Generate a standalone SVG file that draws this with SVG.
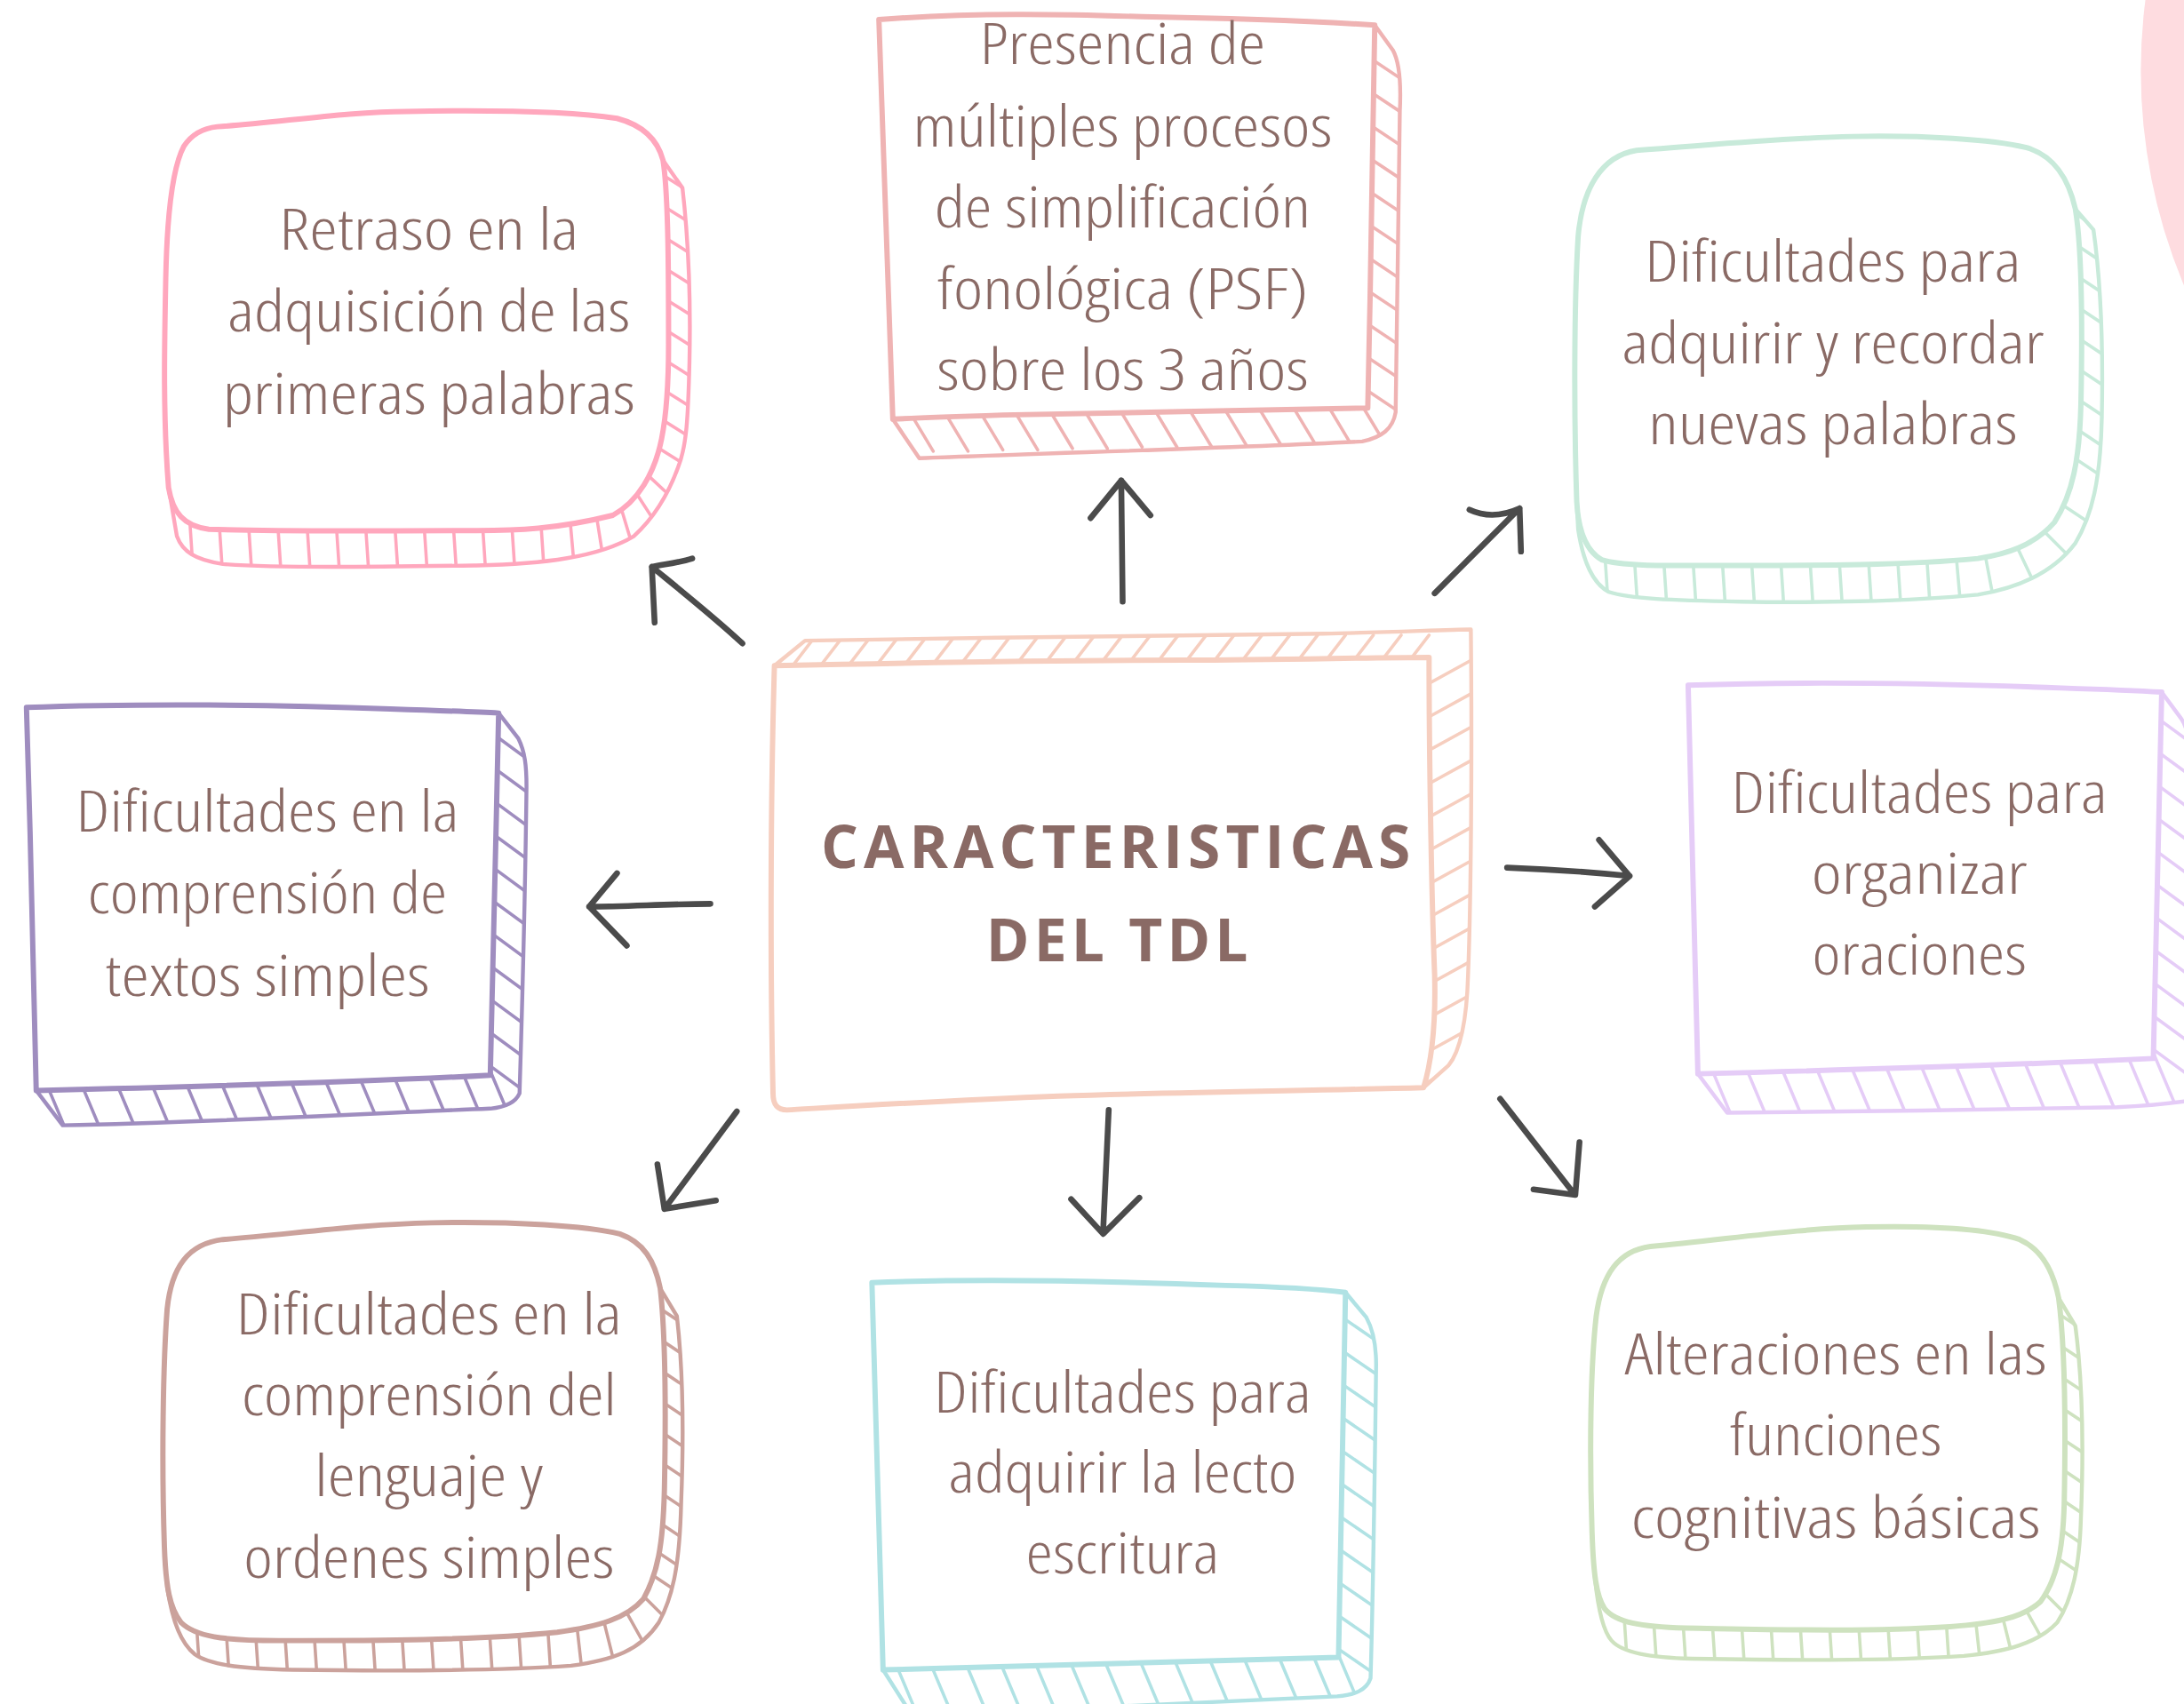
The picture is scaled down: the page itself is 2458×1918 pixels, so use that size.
<svg xmlns="http://www.w3.org/2000/svg" xmlns:xlink="http://www.w3.org/1999/xlink" width="2458" height="1918" viewBox="0 0 2458 1918">
<style>
.t{font-family:'Open Sans','Lato','Liberation Sans',sans-serif;font-weight:300;font-size:41px;fill:#8A6A65;stroke:none;text-anchor:middle;font-stretch:condensed}
.title{font-family:'Open Sans','Lato','Liberation Sans',sans-serif;font-weight:700;font-size:42px;fill:#8A6A65;stroke:none;text-anchor:middle;font-stretch:normal}
.back{fill:#fff;stroke-width:2.8;stroke-linejoin:round}
.face{fill:#fff;stroke-width:3.8;stroke-linejoin:round;stroke-linecap:round}
.rung{fill:none;stroke-width:2.3;stroke-linecap:round}
.arrow{fill:none;stroke:#4B4B4B;stroke-width:4.2;stroke-linecap:round;stroke-linejoin:round}
</style>
<defs>
<path id="oA" d="M156,91 C200,88 250,80 292,80 C350,79 410,80 443,85 C462,90 472,100 476,115 L490,135 C494,170 496,215 495,260 C494,300 493,320 487,335 C478,360 466,375 455,385 C430,400 390,405 342,406 C270,407 200,408 160,405 C140,402 131,396 127,385 L121,350 C117,300 118,250 119,200 C120,150 124,120 132,105 C138,96 146,92 156,91 Z"/>
<path id="oB" d="M631,14 C700,9 760,10 820,12 C880,13 940,15 987,18 L1000,36 C1005,45 1006,60 1005,80 C1004,150 1003,230 1002,296 C1000,308 992,314 978,317 C880,322 760,325 660,329 L641,301 C638,220 634,120 631,14 Z"/>
<path id="oC" d="M1175,108 C1230,104 1280,99 1330,98 C1380,97 1430,100 1455,106 C1475,112 1485,128 1490,150 L1503,165 C1508,200 1510,250 1509,300 C1508,345 1502,370 1490,390 C1475,410 1450,422 1420,427 C1370,432 1300,433 1250,432 C1200,431 1170,430 1155,425 C1142,418 1136,400 1133,380 L1132,360 C1130,300 1130,220 1133,170 C1136,135 1150,112 1175,108 Z"/>
<path id="oD" d="M556,478 L578,460 C700,458 850,456 950,455 C1000,454 1040,452 1056,452 C1057,550 1056,650 1054,700 C1053,735 1048,755 1040,765 L1022,781 C950,783 850,784 760,787 C680,790 600,795 565,797 C557,797 555,792 555,785 C553,700 553,580 556,478 Z"/>
<path id="oE" d="M19,508 C100,505 200,506 280,509 C310,510 340,511 358,512 L372,530 C377,540 378,550 378,565 C377,650 375,720 373,785 C370,792 362,795 352,796 C250,800 150,806 45,808 L26,783 C24,700 22,600 19,508 Z"/>
<path id="oF" d="M1212,492 C1300,489 1400,491 1480,494 C1510,495 1535,496 1552,497 L1566,516 C1572,525 1574,540 1574,560 L1574,790 C1560,792 1540,794 1520,795 C1430,797 1330,798 1240,799 L1219,771 C1217,700 1215,600 1212,492 Z"/>
<path id="oG" d="M160,890 C210,886 260,879 310,878 C370,877 420,880 445,886 C462,892 470,905 474,925 L486,945 C490,980 491,1030 489,1080 C488,1120 484,1145 473,1165 C460,1185 440,1192 410,1196 C350,1200 280,1200 210,1199 C170,1198 150,1195 140,1188 C130,1180 124,1165 120,1140 L118,1110 C116,1050 117,980 120,940 C123,910 135,893 160,890 Z"/>
<path id="oH" d="M626,921 C700,918 800,920 880,923 C920,924 950,926 966,928 L981,946 C986,955 988,965 988,980 C987,1060 986,1140 984,1205 C981,1214 972,1217 960,1218 C860,1222 760,1228 655,1232 L634,1199 C632,1100 629,1010 626,921 Z"/>
<path id="oI" d="M1185,895 C1240,890 1290,882 1340,881 C1390,880 1430,883 1450,890 C1466,897 1474,912 1478,932 L1490,952 C1495,990 1496,1040 1494,1090 C1493,1125 1488,1148 1477,1165 C1463,1180 1440,1186 1410,1189 C1350,1193 1280,1192 1215,1191 C1185,1190 1165,1187 1157,1178 C1150,1170 1146,1150 1144,1120 L1143,1100 C1141,1040 1142,980 1146,945 C1150,915 1162,898 1185,895 Z"/>
<clipPath id="cA"><use xlink:href="#oA"/></clipPath>
<clipPath id="cB"><use xlink:href="#oB"/></clipPath>
<clipPath id="cC"><use xlink:href="#oC"/></clipPath>
<clipPath id="cD"><use xlink:href="#oD"/></clipPath>
<clipPath id="cE"><use xlink:href="#oE"/></clipPath>
<clipPath id="cF"><use xlink:href="#oF"/></clipPath>
<clipPath id="cG"><use xlink:href="#oG"/></clipPath>
<clipPath id="cH"><use xlink:href="#oH"/></clipPath>
<clipPath id="cI"><use xlink:href="#oI"/></clipPath>
</defs>
<rect width="2458" height="1918" fill="#ffffff"/>
<g transform="scale(1.5676)">
<circle id="decor-circle" cx="1935" cy="51" r="398" fill="#FEDCE0"/>

<g id="node-retraso" stroke="#FFA7BD">
<use xlink:href="#oA" class="back"/>
<path class="rung" clip-path="url(#cA)" d="M136,370l3,45M157,370l3,45M178,370l3,45M199,370l3,45M220,370l3,45M241,370l3,45M262,370l3,45M283,370l3,45M304,370l3,45M325,370l3,45M346,370l3,45M367,370l3,45M388,370l3,45M409,370l4,45M428,369l7,44M446,365l12,40M458,356l22,34M467,343l28,26M470,122l32,20M470,144l32,20M470,166l32,20M470,188l32,20M470,210l32,20M470,232l32,20M470,254l32,20M470,276l32,20M470,298l32,20M470,320l32,20"/>
<path class="face" d="M156,91 C200,88 250,80 292,80 C350,79 410,80 443,85 C462,90 472,100 476,115 C480,140 480,200 480,247 C480,280 478,300 475,315 C470,340 458,360 440,370 C400,380 370,381 342,381 C270,381 200,382 150,380 C132,378 124,368 121,350 C117,300 118,250 119,200 C120,150 124,120 132,105 C138,96 146,92 156,91 Z"/>
<text class="t" x="308" y="179" textLength="215" lengthAdjust="spacingAndGlyphs">Retraso en la</text>
<text class="t" x="308" y="238" textLength="289" lengthAdjust="spacingAndGlyphs">adquisición de las</text>
<text class="t" x="308" y="297" textLength="296" lengthAdjust="spacingAndGlyphs">primeras palabras</text>
</g>

<g id="node-presencia" stroke="#EFB3B3">
<use xlink:href="#oB" class="back"/>
<path class="rung" clip-path="url(#cB)" d="M652,294l18,30M677,294l18,30M702,293l18,30M727,293l18,30M752,292l18,30M777,292l18,30M802,291l18,30M827,291l18,30M852,291l18,30M877,290l18,30M902,290l18,30M927,290l18,30M952,289l18,30M976,288l18,30M978,38l27,18M978,62l27,18M978,86l27,18M978,110l27,18M978,134l27,18M978,158l27,18M978,182l27,18M978,206l27,18M978,230l27,18M978,254l27,18M978,278l27,18"/>
<path class="face" d="M631,14 C700,9 760,10 820,12 C880,13 940,15 987,18 C986,100 984,200 982,293 C900,295 800,296 720,298 C690,299 660,300 641,301 C638,220 634,120 631,14 Z"/>
<text class="t" x="806" y="46" textLength="205" lengthAdjust="spacingAndGlyphs">Presencia de</text>
<text class="t" x="806" y="105" textLength="301" lengthAdjust="spacingAndGlyphs">múltiples procesos</text>
<text class="t" x="806" y="163" textLength="270" lengthAdjust="spacingAndGlyphs">de simplificación</text>
<text class="t" x="806" y="222" textLength="266" lengthAdjust="spacingAndGlyphs">fonológica (PSF)</text>
<text class="t" x="806" y="280" textLength="267" lengthAdjust="spacingAndGlyphs">sobre los 3 años</text>
</g>

<g id="node-recordar" stroke="#C8EADA">
<use xlink:href="#oC" class="back"/>
<path class="rung" clip-path="url(#cC)" d="M1152,395l3,45M1173,395l3,45M1194,395l3,45M1215,395l3,45M1236,395l3,45M1257,395l3,45M1278,395l3,45M1299,395l3,45M1320,395l3,45M1341,395l3,45M1362,395l3,45M1383,395l3,45M1404,394l4,45M1424,392l8,42M1444,384l18,38M1460,374l28,28M1474,358l30,20M1488,152l30,20M1488,174l30,20M1488,196l30,20M1488,218l30,20M1488,240l30,20M1488,262l30,20M1488,284l30,20M1488,306l30,20M1488,328l30,20"/>
<path class="face" d="M1175,108 C1230,104 1280,99 1330,98 C1380,97 1430,100 1455,106 C1475,112 1485,128 1490,150 C1495,180 1495,240 1494,290 C1493,330 1488,355 1475,375 C1460,392 1440,398 1420,401 C1370,406 1300,406 1250,406 C1200,406 1165,407 1150,402 C1138,395 1133,380 1132,360 C1130,300 1130,220 1133,170 C1136,135 1150,112 1175,108 Z"/>
<text class="t" x="1316" y="202" textLength="270" lengthAdjust="spacingAndGlyphs">Dificultades para</text>
<text class="t" x="1316" y="261" textLength="303" lengthAdjust="spacingAndGlyphs">adquirir y recordar</text>
<text class="t" x="1316" y="319" textLength="265" lengthAdjust="spacingAndGlyphs">nuevas palabras</text>
</g>

<g id="node-center" stroke="#F6CEBF">
<use xlink:href="#oD" class="back"/>
<path class="rung" clip-path="url(#cD)" d="M566,482l20,-26M586,482l20,-26M606,482l20,-26M626,482l20,-26M646,482l20,-26M666,482l20,-26M686,482l20,-26M706,482l20,-26M726,482l20,-26M746,482l20,-26M766,482l20,-26M786,482l20,-26M806,482l20,-26M826,482l20,-26M846,482l20,-26M866,482l20,-26M886,482l20,-26M906,482l20,-26M926,482l20,-26M946,482l20,-26M966,482l20,-26M986,482l20,-26M1006,482l20,-26M1020,494l40,-22M1020,518l40,-22M1020,542l40,-22M1020,566l40,-22M1020,590l40,-22M1020,614l40,-22M1020,638l40,-22M1020,662l40,-22M1020,686l40,-22M1020,710l40,-22M1020,734l40,-22M1020,758l40,-22M1016,782l40,-22"/>
<path class="face" d="M556,478 C650,476 750,474 850,474 C920,474 980,472 1026,472 C1026,550 1028,650 1030,700 C1031,740 1027,765 1022,781 C950,783 850,784 760,787 C680,790 600,795 565,797 C557,797 555,792 555,785 C553,700 553,580 556,478 Z"/>
<text class="title" x="801" y="623" textLength="423" lengthAdjust="spacing">CARACTERISTICAS</text>
<text class="title" x="802" y="690" textLength="188" lengthAdjust="spacing">DEL TDL</text>
</g>

<g id="node-textos" stroke="#9F8DBF">
<use xlink:href="#oE" class="back"/>
<path class="rung" clip-path="url(#cE)" d="M32,775l16,38M57,775l16,38M82,774l16,38M107,774l16,38M132,774l16,38M157,773l16,38M182,773l16,38M207,772l16,38M232,772l16,38M257,771l16,38M282,771l16,38M307,770l16,38M332,770l16,38M352,769l16,38M350,524l30,22M350,548l30,22M350,572l30,22M350,596l30,22M350,620l30,22M350,644l30,22M350,668l30,22M350,692l30,22M350,716l30,22M350,740l30,22M350,764l30,22"/>
<path class="face" d="M19,508 C100,505 200,506 280,509 C310,510 340,511 358,512 C356,600 354,700 352,772 C280,776 150,780 26,783 C24,700 22,600 19,508 Z"/>
<text class="t" x="192" y="597" textLength="275" lengthAdjust="spacingAndGlyphs">Dificultades en la</text>
<text class="t" x="192" y="656" textLength="258" lengthAdjust="spacingAndGlyphs">comprensión de</text>
<text class="t" x="192" y="715" textLength="233" lengthAdjust="spacingAndGlyphs">textos simples</text>
</g>

<g id="node-oraciones" stroke="#E5CCF7">
<use xlink:href="#oF" class="back"/>
<path class="rung" clip-path="url(#cF)" d="M1227,763l16,38M1252,763l16,38M1277,762l16,38M1302,762l16,38M1327,761l16,38M1352,761l16,38M1377,760l16,38M1402,760l16,38M1427,759l16,38M1452,759l16,38M1477,758l16,38M1502,758l16,38M1527,757l16,38M1546,756l16,38M1544,512l30,22M1544,536l30,22M1544,560l30,22M1544,584l30,22M1544,608l30,22M1544,632l30,22M1544,656l30,22M1544,680l30,22M1544,704l30,22M1544,728l30,22M1544,752l30,22"/>
<path class="face" d="M1212,492 C1300,489 1400,491 1480,494 C1510,495 1535,496 1552,497 C1550,600 1548,700 1546,760 C1460,764 1340,768 1219,771 C1217,700 1215,600 1212,492 Z"/>
<text class="t" x="1378" y="584" textLength="270" lengthAdjust="spacingAndGlyphs">Dificultades para</text>
<text class="t" x="1378" y="642" textLength="155" lengthAdjust="spacingAndGlyphs">organizar</text>
<text class="t" x="1378" y="700" textLength="154" lengthAdjust="spacingAndGlyphs">oraciones</text>
</g>

<g id="node-lenguaje" stroke="#CBA29C">
<use xlink:href="#oG" class="back"/>
<path class="rung" clip-path="url(#cG)" d="M141,1165l3,45M162,1165l3,45M183,1165l3,45M204,1165l3,45M225,1165l3,45M246,1165l3,45M267,1165l3,45M288,1165l3,45M309,1165l3,45M330,1165l3,45M351,1165l3,45M372,1165l3,45M393,1165l3,45M414,1166l5,44M434,1166l10,40M450,1158l20,36M461,1145l28,28M470,937l30,20M470,959l30,20M470,981l30,20M470,1003l30,20M470,1025l30,20M470,1047l30,20M470,1069l30,20M470,1091l30,20M470,1113l30,20M470,1132l30,20"/>
<path class="face" d="M160,890 C210,886 260,879 310,878 C370,877 420,880 445,886 C462,892 470,905 474,925 C478,960 478,1020 477,1070 C476,1110 472,1130 462,1148 C450,1162 430,1168 400,1172 C340,1178 270,1178 200,1178 C160,1178 140,1175 130,1165 C122,1155 119,1140 118,1110 C116,1050 117,980 120,940 C123,910 135,893 160,890 Z"/>
<text class="t" x="308" y="958" textLength="277" lengthAdjust="spacingAndGlyphs">Dificultades en la</text>
<text class="t" x="308" y="1016" textLength="269" lengthAdjust="spacingAndGlyphs">comprensión del</text>
<text class="t" x="308" y="1074" textLength="164" lengthAdjust="spacingAndGlyphs">lenguaje y</text>
<text class="t" x="308" y="1133" textLength="266" lengthAdjust="spacingAndGlyphs">ordenes simples</text>
</g>

<g id="node-lectoescritura" stroke="#B0E2E4">
<use xlink:href="#oH" class="back"/>
<path class="rung" clip-path="url(#cH)" d="M642,1192l16,38M667,1192l16,38M692,1191l16,38M717,1191l16,38M742,1191l16,38M767,1190l16,38M792,1190l16,38M817,1189l16,38M842,1189l16,38M867,1188l16,38M892,1188l16,38M917,1187l16,38M942,1187l16,38M960,1186l16,38M958,942l32,22M958,966l32,22M958,990l32,22M958,1014l32,22M958,1038l32,22M958,1062l32,22M958,1086l32,22M958,1110l32,22M958,1134l32,22M958,1158l32,22M958,1182l32,22"/>
<path class="face" d="M626,921 C700,918 800,920 880,923 C920,924 950,926 966,928 C965,1010 963,1100 961,1190 C870,1193 750,1196 634,1199 C632,1100 629,1010 626,921 Z"/>
<text class="t" x="806" y="1014" textLength="271" lengthAdjust="spacingAndGlyphs">Dificultades para</text>
<text class="t" x="806" y="1072" textLength="250" lengthAdjust="spacingAndGlyphs">adquirir la lecto</text>
<text class="t" x="806" y="1130" textLength="139" lengthAdjust="spacingAndGlyphs">escritura</text>
</g>

<g id="node-cognitivas" stroke="#CEE2BF">
<use xlink:href="#oI" class="back"/>
<path class="rung" clip-path="url(#cI)" d="M1166,1160l3,45M1187,1160l3,45M1208,1160l3,45M1229,1160l3,45M1250,1160l3,45M1271,1160l3,45M1292,1160l3,45M1313,1160l3,45M1334,1160l3,45M1355,1160l3,45M1376,1160l3,45M1397,1160l3,45M1418,1160l5,45M1438,1162l10,40M1454,1155l20,36M1466,1142l28,28M1476,942l30,20M1476,964l30,20M1476,986l30,20M1476,1008l30,20M1476,1030l30,20M1476,1052l30,20M1476,1074l30,20M1476,1096l30,20M1476,1118l30,20"/>
<path class="face" d="M1185,895 C1240,890 1290,882 1340,881 C1390,880 1430,883 1450,890 C1466,897 1474,912 1478,932 C1483,970 1483,1030 1482,1080 C1481,1115 1476,1135 1465,1150 C1452,1162 1430,1166 1400,1168 C1340,1172 1270,1170 1210,1169 C1178,1168 1160,1165 1152,1155 C1146,1146 1144,1130 1143,1100 C1141,1040 1142,980 1146,945 C1150,915 1162,898 1185,895 Z"/>
<text class="t" x="1318" y="987" textLength="303" lengthAdjust="spacingAndGlyphs">Alteraciones en las</text>
<text class="t" x="1318" y="1045" textLength="152" lengthAdjust="spacingAndGlyphs">funciones</text>
<text class="t" x="1318" y="1104" textLength="294" lengthAdjust="spacingAndGlyphs">cognitivas básicas</text>
</g>

<g id="connectors">
<path class="arrow" d="M533,462 C515,445 490,425 468,407 M497,401 C488,404 478,405 468,407 L470,447"/>
<path class="arrow" d="M806,432 L805,345 M783,372 L805,345 L826,370"/>
<path class="arrow" d="M1030,426 L1091,365 M1055,366 C1068,372 1080,370 1091,365 L1092,396"/>
<path class="arrow" d="M510,649 C480,649 450,651 423,651 M443,627 L423,651 L450,679"/>
<path class="arrow" d="M1082,623 C1110,624 1140,626 1170,629 M1148,603 L1170,629 L1145,651"/>
<path class="arrow" d="M529,798 L477,868 M472,836 L477,868 L514,862"/>
<path class="arrow" d="M796,797 L792,884 M769,861 L792,886 L818,860"/>
<path class="arrow" d="M1077,789 L1130,857 M1134,820 L1131,858 L1101,854"/>
</g>
</g>
</svg>
